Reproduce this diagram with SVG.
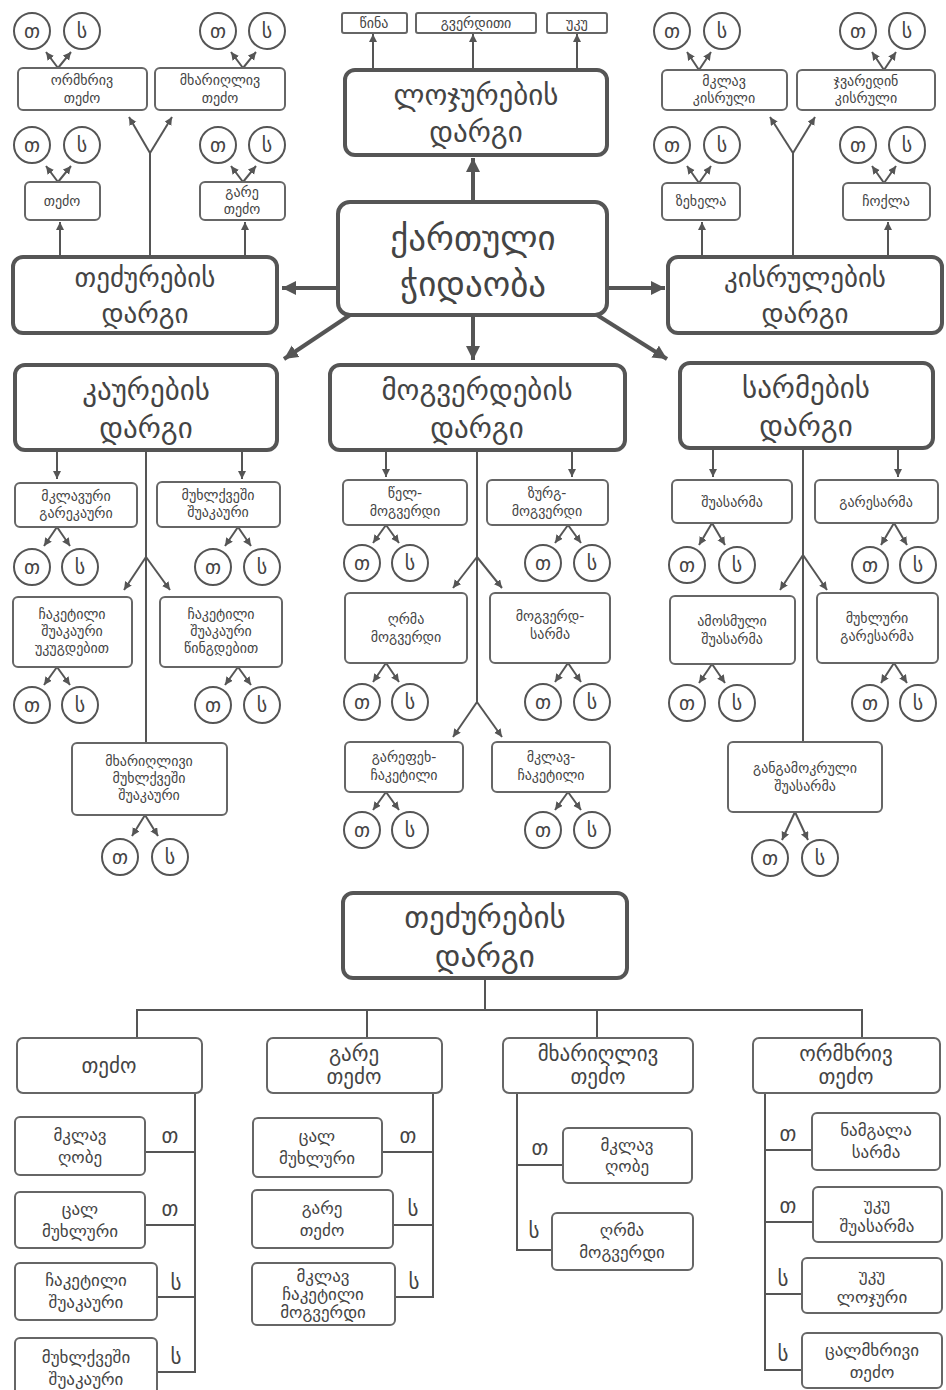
<svg xmlns="http://www.w3.org/2000/svg" width="946" height="1390" viewBox="0 0 946 1390">
<defs>
<marker id="a" markerUnits="userSpaceOnUse" markerWidth="9" markerHeight="9" refX="8" refY="4" orient="auto"><path d="M0,0 L8,4 L0,8 z" fill="#555"/></marker>
<marker id="A" markerUnits="userSpaceOnUse" markerWidth="16" markerHeight="16" refX="14" refY="7" orient="auto"><path d="M0,0 L14,7 L0,14 z" fill="#555"/></marker>
<style>
.big{fill:#fff;stroke:#555;stroke-width:4}
.box{fill:#fff;stroke:#666;stroke-width:2}
.c{fill:#fff;stroke:#555;stroke-width:2}
text{font-family:"DejaVu Sans","Noto Sans",sans-serif;fill:#444;text-anchor:middle;dominant-baseline:central}
.tb{font-size:29px}
.ts{font-size:14px}
.tm{font-size:17px}
.th{font-size:21px}
.tc{font-size:20px}
.ln{stroke:#555;stroke-width:2;fill:none}
.la{stroke:#555;stroke-width:2;fill:none;marker-end:url(#a)}
.lb{stroke:#555;stroke-width:4;fill:none;marker-end:url(#A)}
</style>
</defs>
<rect width="946" height="1390" fill="#fff"/>

<!-- connectors -->
<g id="connectors">
<line class="lb" x1="473" y1="202" x2="473" y2="158"/>
<line class="lb" x1="338" y1="288" x2="282" y2="288"/>
<line class="lb" x1="607" y1="288" x2="665" y2="288"/>
<line class="lb" x1="473" y1="315" x2="473" y2="360"/>
<line class="lb" x1="350" y1="315" x2="284" y2="359"/>
<line class="lb" x1="597" y1="315" x2="667" y2="359"/>
<line class="la" x1="373" y1="70" x2="373" y2="34"/>
<line class="la" x1="473" y1="70" x2="473" y2="34"/>
<line class="la" x1="577" y1="70" x2="577" y2="34"/>
<line class="la" x1="60" y1="257" x2="60" y2="222"/>
<line class="la" x1="245" y1="257" x2="245" y2="222"/>
<polyline class="ln" points="150,257 150,153"/>
<line class="la" x1="150" y1="153" x2="129" y2="117"/>
<line class="la" x1="150" y1="153" x2="172" y2="117"/>
<line class="la" x1="58" y1="68" x2="46" y2="52"/><line class="la" x1="58" y1="68" x2="71" y2="52"/>
<line class="la" x1="243" y1="68" x2="231" y2="52"/><line class="la" x1="243" y1="68" x2="256" y2="52"/>
<line class="la" x1="58" y1="182" x2="46" y2="166"/><line class="la" x1="58" y1="182" x2="71" y2="166"/>
<line class="la" x1="243" y1="182" x2="231" y2="166"/><line class="la" x1="243" y1="182" x2="256" y2="166"/>
<line class="la" x1="702" y1="257" x2="702" y2="222"/>
<line class="la" x1="888" y1="257" x2="888" y2="222"/>
<polyline class="ln" points="793,257 793,153"/>
<line class="la" x1="793" y1="153" x2="770" y2="117"/>
<line class="la" x1="793" y1="153" x2="815" y2="117"/>
<line class="la" x1="699" y1="70" x2="687" y2="52"/><line class="la" x1="699" y1="70" x2="711" y2="52"/>
<line class="la" x1="884" y1="70" x2="872" y2="52"/><line class="la" x1="884" y1="70" x2="896" y2="52"/>
<line class="la" x1="699" y1="183" x2="687" y2="166"/><line class="la" x1="699" y1="183" x2="711" y2="166"/>
<line class="la" x1="884" y1="183" x2="872" y2="166"/><line class="la" x1="884" y1="183" x2="896" y2="166"/>
<line class="la" x1="57" y1="450" x2="57" y2="479"/>
<line class="la" x1="242" y1="450" x2="242" y2="479"/>
<polyline class="ln" points="146,450 146,743"/>
<line class="la" x1="146" y1="557" x2="124" y2="590"/>
<line class="la" x1="146" y1="557" x2="170" y2="590"/>
<line class="la" x1="57" y1="527" x2="44" y2="546"/><line class="la" x1="57" y1="527" x2="70" y2="546"/>
<line class="la" x1="238" y1="527" x2="225" y2="546"/><line class="la" x1="238" y1="527" x2="251" y2="546"/>
<line class="la" x1="57" y1="667" x2="44" y2="685"/><line class="la" x1="57" y1="667" x2="70" y2="685"/>
<line class="la" x1="238" y1="667" x2="225" y2="685"/><line class="la" x1="238" y1="667" x2="251" y2="685"/>
<line class="la" x1="145" y1="815" x2="132" y2="836"/><line class="la" x1="145" y1="815" x2="158" y2="836"/>
<line class="la" x1="386" y1="450" x2="386" y2="477"/>
<line class="la" x1="572" y1="450" x2="572" y2="477"/>
<polyline class="ln" points="477,450 477,702"/>
<line class="la" x1="477" y1="557" x2="453" y2="588"/>
<line class="la" x1="477" y1="557" x2="502" y2="588"/>
<line class="la" x1="477" y1="702" x2="453" y2="737"/>
<line class="la" x1="477" y1="702" x2="502" y2="737"/>
<line class="la" x1="386" y1="525" x2="373" y2="543"/><line class="la" x1="386" y1="525" x2="399" y2="543"/>
<line class="la" x1="568" y1="525" x2="555" y2="543"/><line class="la" x1="568" y1="525" x2="581" y2="543"/>
<line class="la" x1="386" y1="663" x2="373" y2="682"/><line class="la" x1="386" y1="663" x2="399" y2="682"/>
<line class="la" x1="568" y1="663" x2="555" y2="682"/><line class="la" x1="568" y1="663" x2="581" y2="682"/>
<line class="la" x1="386" y1="792" x2="373" y2="810"/><line class="la" x1="386" y1="792" x2="399" y2="810"/>
<line class="la" x1="568" y1="792" x2="555" y2="810"/><line class="la" x1="568" y1="792" x2="581" y2="810"/>
<line class="la" x1="713" y1="448" x2="713" y2="477"/>
<line class="la" x1="898" y1="448" x2="898" y2="477"/>
<polyline class="ln" points="803,448 803,742"/>
<line class="la" x1="803" y1="555" x2="780" y2="590"/>
<line class="la" x1="803" y1="555" x2="827" y2="590"/>
<line class="la" x1="712" y1="523" x2="699" y2="545"/><line class="la" x1="712" y1="523" x2="725" y2="545"/>
<line class="la" x1="894" y1="523" x2="881" y2="545"/><line class="la" x1="894" y1="523" x2="907" y2="545"/>
<line class="la" x1="712" y1="664" x2="699" y2="683"/><line class="la" x1="712" y1="664" x2="725" y2="683"/>
<line class="la" x1="894" y1="663" x2="881" y2="683"/><line class="la" x1="894" y1="663" x2="907" y2="683"/>
<line class="la" x1="795" y1="812" x2="782" y2="840"/><line class="la" x1="795" y1="812" x2="808" y2="840"/>
<polyline class="ln" points="485,978 485,1010"/>
<polyline class="ln" points="137,1038 137,1010 862,1010 862,1038"/>
<line class="ln" x1="367" y1="1010" x2="367" y2="1038"/>
<line class="ln" x1="597" y1="1010" x2="597" y2="1038"/>
<polyline class="ln" points="195,1093 195,1372 157,1372"/>
<line class="ln" x1="145" y1="1152" x2="195" y2="1152"/>
<line class="ln" x1="145" y1="1225" x2="195" y2="1225"/>
<line class="ln" x1="157" y1="1297" x2="195" y2="1297"/>
<polyline class="ln" points="433,1093 433,1297 395,1297"/>
<line class="ln" x1="382" y1="1152" x2="433" y2="1152"/>
<line class="ln" x1="393" y1="1225" x2="433" y2="1225"/>
<polyline class="ln" points="517,1093 517,1250 552,1250"/>
<line class="ln" x1="517" y1="1165" x2="563" y2="1165"/>
<polyline class="ln" points="765,1093 765,1370 802,1370"/>
<line class="ln" x1="765" y1="1150" x2="812" y2="1150"/>
<line class="ln" x1="765" y1="1222" x2="813" y2="1222"/>
<line class="ln" x1="765" y1="1294" x2="802" y2="1294"/>
</g>

<!-- TOP SECTION -->
<g id="n-center"><rect class="big" x="338" y="202" width="269" height="113" rx="12"/><text class="tb" x="473" y="238" style="font-size:35px">ქართული</text><text class="tb" x="473" y="284" style="font-size:35px">ჭიდაობა</text></g>
<g id="n-lojurebi"><rect class="big" x="345" y="70" width="262" height="85" rx="10"/><text class="tb" x="476" y="95">ლოჯურების</text><text class="tb" x="476" y="132">დარგი</text></g>
<g id="n-wina"><rect class="box" x="342" y="13" width="65" height="20" rx="2"/><text class="ts" x="374" y="23">წინა</text></g>
<g id="n-gverditi"><rect class="box" x="416" y="13" width="120" height="20" rx="2"/><text class="ts" x="476" y="23">გვერდითი</text></g>
<g id="n-uku"><rect class="box" x="547" y="13" width="60" height="20" rx="2"/><text class="ts" x="577" y="23">უკუ</text></g>

<g id="n-tedzurebi-top"><rect class="big" x="13" y="257" width="264" height="76" rx="10"/><text class="tb" x="145" y="277" style="font-size:27px">თეძურების</text><text class="tb" x="145" y="313" style="font-size:27px">დარგი</text></g>
<g id="n-ormxriv-top"><rect class="box" x="18" y="68" width="129" height="42" rx="5"/><text class="ts" x="82" y="80">ორმხრივ</text><text class="ts" x="82" y="98">თეძო</text></g>
<g id="n-mxarighliv-top"><rect class="box" x="155" y="68" width="130" height="42" rx="5"/><text class="ts" x="220" y="80">მხარიღლივ</text><text class="ts" x="220" y="98">თეძო</text></g>
<g id="n-tedzo-top"><rect class="box" x="25" y="182" width="75" height="38" rx="5"/><text class="ts" x="62" y="201">თეძო</text></g>
<g id="n-gare-tedzo-top"><rect class="box" x="200" y="182" width="85" height="38" rx="5"/><text class="ts" x="242" y="192">გარე</text><text class="ts" x="242" y="209">თეძო</text></g>

<g id="n-kisrulebi"><rect class="big" x="668" y="257" width="274" height="76" rx="10"/><text class="tb" x="805" y="277" style="font-size:27px">კისრულების</text><text class="tb" x="805" y="313" style="font-size:27px">დარგი</text></g>
<g id="n-mklav-kisruli"><rect class="box" x="662" y="70" width="125" height="40" rx="5"/><text class="ts" x="724" y="81">მკლავ</text><text class="ts" x="724" y="98">კისრული</text></g>
<g id="n-jvaredin-kisruli"><rect class="box" x="797" y="70" width="138" height="40" rx="5"/><text class="ts" x="866" y="81">ჯვარედინ</text><text class="ts" x="866" y="98">კისრული</text></g>
<g id="n-zexela"><rect class="box" x="662" y="183" width="78" height="37" rx="5"/><text class="ts" x="701" y="201">ზეხელა</text></g>
<g id="n-choqla"><rect class="box" x="843" y="183" width="87" height="37" rx="5"/><text class="ts" x="886" y="201">ჩოქლა</text></g>

<g id="circles-top">
<circle class="c" cx="32" cy="31" r="18"/><text class="tc" x="32" y="31">თ</text>
<circle class="c" cx="82" cy="31" r="18"/><text class="tc" x="82" y="31">ს</text>
<circle class="c" cx="218" cy="31" r="18"/><text class="tc" x="218" y="31">თ</text>
<circle class="c" cx="267" cy="31" r="18"/><text class="tc" x="267" y="31">ს</text>
<circle class="c" cx="32" cy="145" r="18"/><text class="tc" x="32" y="145">თ</text>
<circle class="c" cx="82" cy="145" r="18"/><text class="tc" x="82" y="145">ს</text>
<circle class="c" cx="218" cy="145" r="18"/><text class="tc" x="218" y="145">თ</text>
<circle class="c" cx="267" cy="145" r="18"/><text class="tc" x="267" y="145">ს</text>
<circle class="c" cx="672" cy="31" r="18"/><text class="tc" x="672" y="31">თ</text>
<circle class="c" cx="722" cy="31" r="18"/><text class="tc" x="722" y="31">ს</text>
<circle class="c" cx="858" cy="31" r="18"/><text class="tc" x="858" y="31">თ</text>
<circle class="c" cx="907" cy="31" r="18"/><text class="tc" x="907" y="31">ს</text>
<circle class="c" cx="672" cy="145" r="18"/><text class="tc" x="672" y="145">თ</text>
<circle class="c" cx="722" cy="145" r="18"/><text class="tc" x="722" y="145">ს</text>
<circle class="c" cx="858" cy="145" r="18"/><text class="tc" x="858" y="145">თ</text>
<circle class="c" cx="907" cy="145" r="18"/><text class="tc" x="907" y="145">ს</text>
</g>

<!-- MIDDLE ROW -->
<g id="n-kaurebi"><rect class="big" x="15" y="365" width="262" height="85" rx="10"/><text class="tb" x="146" y="390">კაურების</text><text class="tb" x="146" y="428">დარგი</text></g>
<g id="n-mklavuri-garekauri"><rect class="box" x="15" y="483" width="122" height="44" rx="5"/><text class="ts" x="76" y="496">მკლავური</text><text class="ts" x="76" y="513">გარეკაური</text></g>
<g id="n-muxlqveshi-shuakauri"><rect class="box" x="157" y="482" width="123" height="45" rx="5"/><text class="ts" x="218" y="495">მუხლქვეში</text><text class="ts" x="218" y="512">შუაკაური</text></g>
<g id="n-chaketili-ukugdebit"><rect class="box" x="13" y="597" width="119" height="70" rx="5"/><text class="ts" x="72" y="614">ჩაკეტილი</text><text class="ts" x="72" y="631">შუაკაური</text><text class="ts" x="72" y="648">უკუგდებით</text></g>
<g id="n-chaketili-wingdebit"><rect class="box" x="160" y="597" width="122" height="70" rx="5"/><text class="ts" x="221" y="614">ჩაკეტილი</text><text class="ts" x="221" y="631">შუაკაური</text><text class="ts" x="221" y="648">წინგდებით</text></g>
<g id="n-mxarighlivi-muxlqveshi"><rect class="box" x="72" y="743" width="155" height="72" rx="5"/><text class="ts" x="149" y="761">მხარიღლივი</text><text class="ts" x="149" y="778">მუხლქვეში</text><text class="ts" x="149" y="795">შუაკაური</text></g>

<g id="n-mogverdebi"><rect class="big" x="330" y="365" width="295" height="85" rx="10"/><text class="tb" x="477" y="390">მოგვერდების</text><text class="tb" x="477" y="428">დარგი</text></g>
<g id="n-wel-mogverdi"><rect class="box" x="343" y="480" width="124" height="45" rx="5"/><text class="ts" x="405" y="493">წელ-</text><text class="ts" x="405" y="511">მოგვერდი</text></g>
<g id="n-zurg-mogverdi"><rect class="box" x="487" y="480" width="121" height="45" rx="5"/><text class="ts" x="547" y="493">ზურგ-</text><text class="ts" x="547" y="511">მოგვერდი</text></g>
<g id="n-ghrma-mogverdi"><rect class="box" x="345" y="593" width="122" height="70" rx="5"/><text class="ts" x="406" y="619">ღრმა</text><text class="ts" x="406" y="637">მოგვერდი</text></g>
<g id="n-mogverd-sarma"><rect class="box" x="490" y="593" width="120" height="70" rx="5"/><text class="ts" x="550" y="616">მოგვერდ-</text><text class="ts" x="550" y="634">სარმა</text></g>
<g id="n-garefex-chaketili"><rect class="box" x="345" y="742" width="118" height="50" rx="5"/><text class="ts" x="404" y="757">გარეფეხ-</text><text class="ts" x="404" y="775">ჩაკეტილი</text></g>
<g id="n-mklav-chaketili"><rect class="box" x="492" y="742" width="118" height="50" rx="5"/><text class="ts" x="551" y="757">მკლავ-</text><text class="ts" x="551" y="775">ჩაკეტილი</text></g>

<g id="n-sarmebi"><rect class="big" x="680" y="363" width="253" height="85" rx="10"/><text class="tb" x="806" y="388">სარმების</text><text class="tb" x="806" y="426">დარგი</text></g>
<g id="n-shuasarma"><rect class="box" x="672" y="480" width="120" height="43" rx="5"/><text class="ts" x="732" y="502">შუასარმა</text></g>
<g id="n-garesarma"><rect class="box" x="815" y="480" width="123" height="43" rx="5"/><text class="ts" x="876" y="502">გარესარმა</text></g>
<g id="n-amosmuli-shuasarma"><rect class="box" x="670" y="596" width="125" height="68" rx="5"/><text class="ts" x="732" y="621">ამოსმული</text><text class="ts" x="732" y="639">შუასარმა</text></g>
<g id="n-muxluri-garesarma"><rect class="box" x="817" y="593" width="121" height="70" rx="5"/><text class="ts" x="877" y="618">მუხლური</text><text class="ts" x="877" y="636">გარესარმა</text></g>
<g id="n-gangamokruli"><rect class="box" x="728" y="742" width="154" height="70" rx="5"/><text class="ts" x="805" y="768">განგამოკრული</text><text class="ts" x="805" y="786">შუასარმა</text></g>

<g id="circles-mid">
<circle class="c" cx="32" cy="567" r="18"/><text class="tc" x="32" y="567">თ</text>
<circle class="c" cx="80" cy="567" r="18"/><text class="tc" x="80" y="567">ს</text>
<circle class="c" cx="213" cy="567" r="18"/><text class="tc" x="213" y="567">თ</text>
<circle class="c" cx="262" cy="567" r="18"/><text class="tc" x="262" y="567">ს</text>
<circle class="c" cx="32" cy="705" r="18"/><text class="tc" x="32" y="705">თ</text>
<circle class="c" cx="80" cy="705" r="18"/><text class="tc" x="80" y="705">ს</text>
<circle class="c" cx="213" cy="705" r="18"/><text class="tc" x="213" y="705">თ</text>
<circle class="c" cx="262" cy="705" r="18"/><text class="tc" x="262" y="705">ს</text>
<circle class="c" cx="120" cy="857" r="18"/><text class="tc" x="120" y="857">თ</text>
<circle class="c" cx="170" cy="857" r="18"/><text class="tc" x="170" y="857">ს</text>
<circle class="c" cx="362" cy="563" r="18"/><text class="tc" x="362" y="563">თ</text>
<circle class="c" cx="410" cy="563" r="18"/><text class="tc" x="410" y="563">ს</text>
<circle class="c" cx="543" cy="563" r="18"/><text class="tc" x="543" y="563">თ</text>
<circle class="c" cx="592" cy="563" r="18"/><text class="tc" x="592" y="563">ს</text>
<circle class="c" cx="362" cy="702" r="18"/><text class="tc" x="362" y="702">თ</text>
<circle class="c" cx="410" cy="702" r="18"/><text class="tc" x="410" y="702">ს</text>
<circle class="c" cx="543" cy="702" r="18"/><text class="tc" x="543" y="702">თ</text>
<circle class="c" cx="592" cy="702" r="18"/><text class="tc" x="592" y="702">ს</text>
<circle class="c" cx="362" cy="830" r="18"/><text class="tc" x="362" y="830">თ</text>
<circle class="c" cx="410" cy="830" r="18"/><text class="tc" x="410" y="830">ს</text>
<circle class="c" cx="543" cy="830" r="18"/><text class="tc" x="543" y="830">თ</text>
<circle class="c" cx="592" cy="830" r="18"/><text class="tc" x="592" y="830">ს</text>
<circle class="c" cx="687" cy="565" r="18"/><text class="tc" x="687" y="565">თ</text>
<circle class="c" cx="737" cy="565" r="18"/><text class="tc" x="737" y="565">ს</text>
<circle class="c" cx="870" cy="565" r="18"/><text class="tc" x="870" y="565">თ</text>
<circle class="c" cx="918" cy="565" r="18"/><text class="tc" x="918" y="565">ს</text>
<circle class="c" cx="687" cy="703" r="18"/><text class="tc" x="687" y="703">თ</text>
<circle class="c" cx="737" cy="703" r="18"/><text class="tc" x="737" y="703">ს</text>
<circle class="c" cx="870" cy="703" r="18"/><text class="tc" x="870" y="703">თ</text>
<circle class="c" cx="918" cy="703" r="18"/><text class="tc" x="918" y="703">ს</text>
<circle class="c" cx="770" cy="858" r="18"/><text class="tc" x="770" y="858">თ</text>
<circle class="c" cx="820" cy="858" r="18"/><text class="tc" x="820" y="858">ს</text>
</g>

<!-- BOTTOM SECTION -->
<g id="n-tedzurebi-bottom"><rect class="big" x="343" y="893" width="284" height="85" rx="10"/><text class="tb" x="485" y="917" style="font-size:31px">თეძურების</text><text class="tb" x="485" y="956" style="font-size:31px">დარგი</text></g>
<g id="n-h-tedzo"><rect class="box" x="17" y="1038" width="185" height="55" rx="6"/><text class="th" x="109" y="1066">თეძო</text></g>
<g id="n-h-gare-tedzo"><rect class="box" x="267" y="1038" width="175" height="55" rx="6"/><text class="th" x="354" y="1054">გარე</text><text class="th" x="354" y="1077">თეძო</text></g>
<g id="n-h-mxarighliv"><rect class="box" x="503" y="1038" width="190" height="55" rx="6"/><text class="th" x="598" y="1054">მხარიღლივ</text><text class="th" x="598" y="1077">თეძო</text></g>
<g id="n-h-ormxriv"><rect class="box" x="753" y="1038" width="187" height="55" rx="6"/><text class="th" x="846" y="1054">ორმხრივ</text><text class="th" x="846" y="1077">თეძო</text></g>

<g id="n-b1"><rect class="box" x="15" y="1117" width="130" height="58" rx="5"/><text class="tm" x="80" y="1135">მკლავ</text><text class="tm" x="80" y="1157">ღობე</text></g>
<g id="n-b2"><rect class="box" x="15" y="1192" width="130" height="56" rx="5"/><text class="tm" x="80" y="1209">ცალ</text><text class="tm" x="80" y="1231">მუხლური</text></g>
<g id="n-b3"><rect class="box" x="15" y="1263" width="142" height="57" rx="5"/><text class="tm" x="86" y="1280">ჩაკეტილი</text><text class="tm" x="86" y="1302">შუაკაური</text></g>
<g id="n-b4"><rect class="box" x="15" y="1338" width="142" height="62" rx="5"/><text class="tm" x="86" y="1357">მუხლქვეში</text><text class="tm" x="86" y="1379">შუაკაური</text></g>
<g id="n-b5"><rect class="box" x="253" y="1118" width="129" height="59" rx="5"/><text class="tm" x="317" y="1136">ცალ</text><text class="tm" x="317" y="1158">მუხლური</text></g>
<g id="n-b6"><rect class="box" x="252" y="1190" width="141" height="58" rx="5"/><text class="tm" x="322" y="1208">გარე</text><text class="tm" x="322" y="1230">თეძო</text></g>
<g id="n-b7"><rect class="box" x="252" y="1263" width="143" height="62" rx="5"/><text class="tm" x="323" y="1276">მკლავ</text><text class="tm" x="323" y="1294">ჩაკეტილი</text><text class="tm" x="323" y="1312">მოგვერდი</text></g>
<g id="n-b8"><rect class="box" x="563" y="1128" width="129" height="55" rx="5"/><text class="tm" x="627" y="1145">მკლავ</text><text class="tm" x="627" y="1166">ღობე</text></g>
<g id="n-b9"><rect class="box" x="552" y="1213" width="141" height="57" rx="5"/><text class="tm" x="622" y="1230">ღრმა</text><text class="tm" x="622" y="1252">მოგვერდი</text></g>
<g id="n-b10"><rect class="box" x="812" y="1113" width="128" height="57" rx="5"/><text class="tm" x="876" y="1130">ნამგალა</text><text class="tm" x="876" y="1152">სარმა</text></g>
<g id="n-b11"><rect class="box" x="813" y="1187" width="129" height="55" rx="5"/><text class="tm" x="877" y="1204">უკუ</text><text class="tm" x="877" y="1226">შუასარმა</text></g>
<g id="n-b12"><rect class="box" x="802" y="1258" width="140" height="55" rx="5"/><text class="tm" x="872" y="1275">უკუ</text><text class="tm" x="872" y="1297">ლოჯური</text></g>
<g id="n-b13"><rect class="box" x="802" y="1333" width="140" height="55" rx="5"/><text class="tm" x="872" y="1350">ცალმხრივი</text><text class="tm" x="872" y="1372">თეძო</text></g>

<g id="branch-labels">
<text class="th" x="170" y="1136">თ</text>
<text class="th" x="170" y="1209">თ</text>
<text class="th" x="176" y="1283">ს</text>
<text class="th" x="176" y="1357">ს</text>
<text class="th" x="408" y="1136">თ</text>
<text class="th" x="413" y="1209">ს</text>
<text class="th" x="414" y="1282">ს</text>
<text class="th" x="540" y="1148">თ</text>
<text class="th" x="534" y="1231">ს</text>
<text class="th" x="788" y="1134">თ</text>
<text class="th" x="788" y="1206">თ</text>
<text class="th" x="783" y="1279">ს</text>
<text class="th" x="783" y="1354">ს</text>
</g>
</svg>
